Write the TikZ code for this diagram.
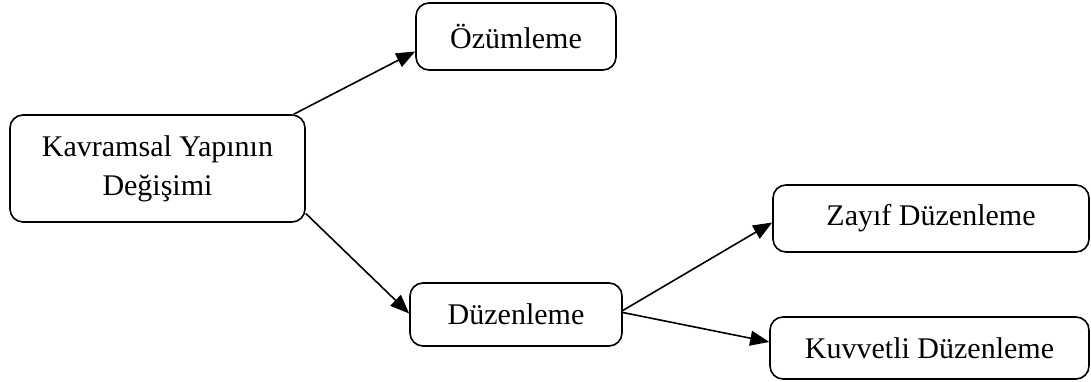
\documentclass[tikz,border=0pt]{standalone}
\usepackage{fontspec}
\setmainfont{Liberation Serif}
\usetikzlibrary{arrows.meta}
\begin{document}
\begin{tikzpicture}[x=1pt,y=-1pt,
  box/.style={draw, line width=1.6pt, rounded corners=13pt, align=center, inner sep=0pt,
    font=\fontsize{30}{39}\selectfont},
  arr/.style={line width=1.6pt, -{Triangle[length=19pt,width=15pt]}}]
\useasboundingbox (0,0) rectangle (1091,382);
\node[box, minimum width=295pt, minimum height=107pt] (k) at (157.5,168.5) {Kavramsal Yapının\\Değişimi};
\node[box, minimum width=200pt, minimum height=67pt] (o) at (516,36.5) {Özümleme};
\node[box, minimum width=212pt, minimum height=63pt] (d) at (516,314.5) {Düzenleme};
\node[box, minimum width=316pt, minimum height=67pt] (z) at (931,218.5) {Zayıf Düzenleme};
\node[box, minimum width=319pt, minimum height=62pt] (kv) at (929.5,348) {Kuvvetli Düzenleme};
\draw[arr] ([xshift=-12pt]k.north east) -- ([yshift=-15pt]o.west);
\draw[arr] ([yshift=-45pt]k.east) -- ([yshift=1pt]d.west);
\draw[arr] ([yshift=4pt]d.east) -- ([yshift=-4pt]z.west);
\draw[arr] ([yshift=2pt]d.east) -- ([yshift=6pt]kv.west);
\end{tikzpicture}
\end{document}
